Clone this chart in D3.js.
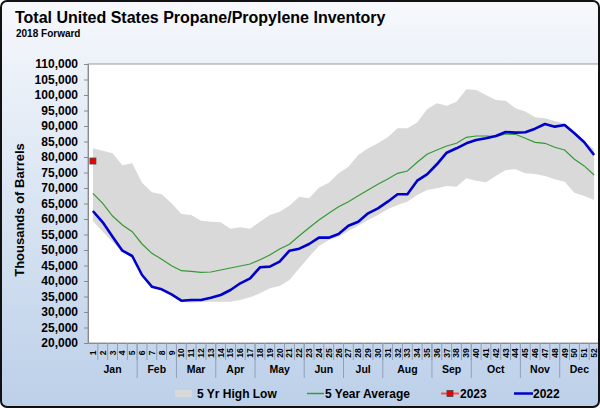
<!DOCTYPE html>
<html><head><meta charset="utf-8">
<script src="https://cdn.jsdelivr.net/npm/d3@7"></script>
<style>body{margin:0;background:#fff}svg{display:block}text{font-family:"Liberation Sans",Arial,sans-serif;font-weight:bold;fill:#000}</style>
</head><body><svg id="c" width="600" height="408"></svg>
<script>
const weeks = d3.range(1, 53);
const months = ["Jan","Feb","Mar","Apr","May","Jun","Jul","Aug","Sep","Oct","Nov","Dec"];
const monthWeeks = [5,4,4,4,5,4,4,5,4,5,4,4];
const yTicks = d3.range(20000, 110001, 5000);
const high5 = [82810,82040,81190,77320,77960,71710,68610,67960,65070,61610,61290,59450,59130,58940,56880,57320,56880,59130,61290,62360,64290,67200,66680,70100,71710,74740,76890,80660,82810,84420,86360,89260,89260,91090,95390,97320,96560,97860,101840,101620,100010,98400,98180,95720,94640,92830,92510,91620,90800,88000,85200,82490];
const low5 = [59350,55910,52680,49400,47500,41500,37800,37100,35480,33320,33000,33320,33320,33320,33320,33870,34740,36030,37640,38390,40330,44100,47850,51290,53230,54290,56130,57840,59680,61290,63130,64520,65590,67750,69360,69900,70650,70430,73130,72360,71840,73870,75810,76020,74740,74520,73870,72810,72040,68490,67420,66130];
const avg5 = [68290,65070,60970,58070,55910,51940,48930,46990,44940,43320,43130,42810,42900,43550,44200,44840,45490,46870,48390,50320,51840,54610,57190,59680,61840,63970,65590,67520,69360,71190,72900,74740,75480,78290,80870,82270,83560,84420,86360,86770,86770,86560,87420,87320,86030,84740,84420,83130,82270,79260,77120,74200];
const y2022 = [62580,58940,54290,49780,48070,41940,38170,37320,35710,33650,33870,33870,34620,35480,37100,39260,40870,44420,44630,46240,49780,50420,51940,53980,53980,55160,57840,59130,61840,63450,65590,67960,67960,72360,74420,77650,81390,82810,84420,85490,86030,86770,88070,87850,87960,89140,90650,89790,90320,87640,84740,80660];
const y2023 = [78700];

const svg = d3.select("#c");
const defs = svg.append("defs");
const g = defs.append("linearGradient").attr("id","bg").attr("x1",0).attr("y1",0).attr("x2",0).attr("y2",1);
g.append("stop").attr("offset","0%").attr("stop-color","#f6f8fc");
g.append("stop").attr("offset","100%").attr("stop-color","#bcd0e9");
svg.append("rect").attr("x",1).attr("y",1).attr("width",598).attr("height",406).attr("rx",6).attr("fill","url(#bg)");

const L = 88, R = 599, T = 64, B = 343;
const x = d3.scaleBand().domain(weeks).range([L, R]).paddingInner(0).paddingOuter(0);
const xc = w => x(w) + x.bandwidth()/2;
const y = d3.scaleLinear().domain([20000, 110000]).range([B, T]);

svg.append("rect").attr("x",L).attr("y",T).attr("width",R-L).attr("height",B-T).attr("fill","#fff").attr("stroke","#9a9a9a").attr("stroke-width",1);

// band
svg.append("path").datum(weeks.map((w,i)=>({w, lo:low5[i], hi:high5[i]})))
  .attr("fill","#d9d9d9")
  .attr("d", d3.area().x(d=>xc(d.w)).y0(d=>y(d.lo)).y1(d=>y(d.hi)));
svg.append("path").datum(weeks.map((w,i)=>({w, v:avg5[i]})))
  .attr("fill","none").attr("stroke","#349a34").attr("stroke-width",1.2)
  .attr("d", d3.line().x(d=>xc(d.w)).y(d=>y(d.v)));
svg.append("path").datum(weeks.map((w,i)=>({w, v:y2022[i]})))
  .attr("fill","none").attr("stroke","#0000cc").attr("stroke-width",2.6).attr("stroke-linejoin","round")
  .attr("d", d3.line().x(d=>xc(d.w)).y(d=>y(d.v)));
svg.selectAll(".p23").data(y2023).join("rect")
  .attr("x",(d,i)=>xc(weeks[i])-3).attr("y",d=>y(d)-3).attr("width",6).attr("height",6)
  .attr("fill","#ee0000").attr("stroke","#444").attr("stroke-width",0.8);

// y axis
const ya = svg.append("g").attr("transform",`translate(${L},0)`)
  .call(d3.axisLeft(y).tickValues(yTicks).tickSize(4).tickPadding(6).tickFormat(d3.format(",")));
ya.select(".domain").attr("stroke","#8a8a8a");
ya.selectAll(".tick line").attr("stroke","#8a8a8a");
ya.selectAll("text").style("font-size","12px").style("font-weight","bold").attr("fill","#000").style("font-family","Liberation Sans, Arial, sans-serif");

// x axis: week labels
const xa = svg.append("g").attr("transform",`translate(0,${B})`)
  .call(d3.axisBottom(x).tickSize(0).tickPadding(0));
xa.select(".domain").attr("stroke","#8a8a8a");
xa.selectAll(".tick text").attr("transform","translate(0,10) rotate(-90)")
  .attr("dy","0.35em").attr("y",0).attr("x",0).attr("text-anchor","middle")
  .style("font-size","8.5px").style("font-weight","bold").style("font-family","Liberation Sans, Arial, sans-serif").attr("fill","#000");
// week separators
svg.selectAll(".wsep").data(weeks.slice(1)).join("line")
  .attr("x1",w=>x(w)).attr("x2",w=>x(w)).attr("y1",B).attr("y2",B+17)
  .attr("stroke","#8fa0b8").attr("stroke-width",1);
// month separators and labels
let acc = 0; const mInfo = months.map((m,i)=>{const s=acc+1; acc+=monthWeeks[i]; return {m, s, e:acc};});
svg.selectAll(".msep").data(mInfo.slice(0,-1)).join("line")
  .attr("x1",d=>x(d.e)+x.bandwidth()).attr("x2",d=>x(d.e)+x.bandwidth()).attr("y1",B).attr("y2",B+35)
  .attr("stroke","#8fa0b8").attr("stroke-width",1);
svg.selectAll(".mlab").data(mInfo).join("text")
  .attr("x",d=>(x(d.s)+x(d.e)+x.bandwidth())/2).attr("y",B+30).attr("text-anchor","middle")
  .style("font-size","10.5px").text(d=>d.m);

// y title
svg.append("text").attr("transform","translate(24,210) rotate(-90)").attr("text-anchor","middle")
  .style("font-size","13px").text("Thousands of Barrels");

// title
svg.append("text").attr("x",15).attr("y",23).style("font-size","16px").text("Total United States Propane/Propylene Inventory");
svg.append("text").attr("x",16).attr("y",37).style("font-size","10px").text("2018 Forward");

// legend
const lg = svg.append("g");
lg.append("rect").attr("x",175).attr("y",390).attr("width",17).attr("height",7).attr("fill","#d9d9d9");
lg.append("text").attr("x",197).attr("y",398).style("font-size","12px").text("5 Yr High Low");
lg.append("line").attr("x1",307).attr("x2",324).attr("y1",393.5).attr("y2",393.5).attr("stroke","#3a9a3a").attr("stroke-width",1.5);
lg.append("text").attr("x",325).attr("y",398).style("font-size","12px").text("5 Year Average");
lg.append("line").attr("x1",441).attr("x2",459).attr("y1",393.5).attr("y2",393.5).attr("stroke","#ff4d4d").attr("stroke-width",2);
lg.append("rect").attr("x",447).attr("y",390.5).attr("width",6).attr("height",6).attr("fill","#ee0000").attr("stroke","#444").attr("stroke-width",0.8);
lg.append("text").attr("x",460).attr("y",398).style("font-size","12px").text("2023");
lg.append("line").attr("x1",514).attr("x2",533).attr("y1",393.5).attr("y2",393.5).attr("stroke","#0000cc").attr("stroke-width",2.5);
lg.append("text").attr("x",533).attr("y",398).style("font-size","12px").text("2022");

// frame
svg.append("rect").attr("x",1).attr("y",1).attr("width",598).attr("height",406).attr("rx",6).attr("fill","none").attr("stroke","#111").attr("stroke-width",2);
</script></body></html>
